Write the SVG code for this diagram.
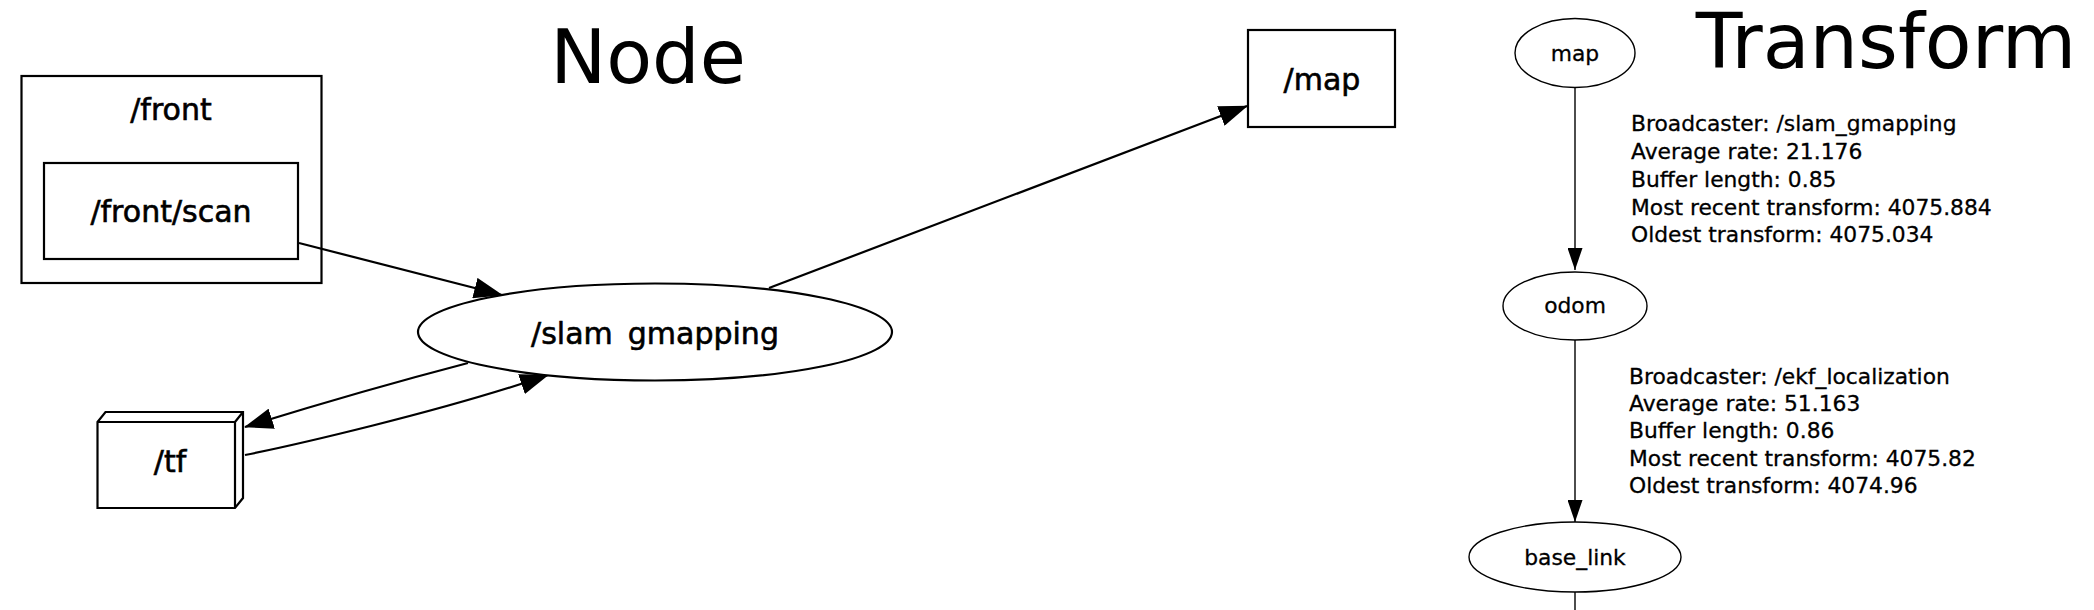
<svg xmlns="http://www.w3.org/2000/svg" width="2094" height="610" viewBox="0 0 2094 610">
<style>
  .bg { fill: #ffffff; }
  .title { font-family: "DejaVu Sans", sans-serif; font-size: 75px; fill: #000; text-anchor: middle; }
  .lbl { font-family: "DejaVu Sans", sans-serif; font-size: 30px; fill: #000; stroke: #000; stroke-width: 0.6; text-anchor: middle; }
  .tlbl { font-family: "DejaVu Sans", sans-serif; font-size: 21.8px; fill: #000; stroke: #000; stroke-width: 0.3; text-anchor: middle; }
  .elbl { font-family: "DejaVu Sans", sans-serif; font-size: 21.8px; fill: #000; stroke: #000; stroke-width: 0.3; }
  .thick { fill: #fff; stroke: #000; stroke-width: 2.2; }
  .cluster { fill: none; stroke: #000; stroke-width: 2.2; }
  .thin { fill: #fff; stroke: #000; stroke-width: 1.4; }
  .e { fill: none; stroke: #000; stroke-width: 2.2; }
  .et { fill: none; stroke: #000; stroke-width: 1.4; }
</style>
<defs>
  <marker id="ah" markerUnits="userSpaceOnUse" viewBox="0 0 29 21" refX="28" refY="10.5" markerWidth="29" markerHeight="21" orient="auto">
    <path d="M0,0 L29,10.5 L0,21 z" fill="#000"/>
  </marker>
  <marker id="ahs" markerUnits="userSpaceOnUse" viewBox="0 0 22 15" refX="22" refY="7.5" markerWidth="22" markerHeight="15" orient="auto">
    <path d="M0,0 L22,7.5 L0,15 z" fill="#000"/>
  </marker>
</defs>
<rect class="bg" x="0" y="0" width="2094" height="610"/>

<text class="title" x="648" y="83">Node</text>
<text class="title" x="1886" y="68" style="font-size:76.5px">Transform</text>

<g id="front">
  <rect class="cluster" x="21.5" y="76" width="300" height="207"/>
  <text class="lbl" x="171" y="120">/front</text>
</g>

<g id="connectors">
  <path class="e" d="M299,243 L502,295" marker-end="url(#ah)"/>
  <path class="e" d="M769,288 L1247,106" marker-end="url(#ah)"/>
  <path class="e" d="M468,363 Q357,392 245,427" marker-end="url(#ah)"/>
  <path class="e" d="M245,455 C290,446 440,412 548,375" marker-end="url(#ah)"/>
  <path class="et" d="M1575,87 L1575,270" marker-end="url(#ahs)"/>
  <path class="et" d="M1575,340 L1575,522" marker-end="url(#ahs)"/>
  <path class="et" d="M1575,592 L1575,615"/>
</g>

<g id="front_scan">
  <rect class="thick" x="44" y="163" width="254" height="96"/>
  <text class="lbl" x="171" y="222">/front/scan</text>
</g>
<g id="slam_gmapping">
  <ellipse class="thick" cx="655" cy="332" rx="237" ry="48.5"/>
  <text class="lbl" x="655" y="344" style="word-spacing:5.5px">/slam gmapping</text>
</g>
<g id="tf">
  <path class="thick" d="M97.5,422 L105.5,412 L243,412 L243,498 L235,508 L97.5,508 Z"/>
  <path class="thick" d="M97.5,422 L235,422 L235,508 M235,422 L243,412" fill="none"/>
  <text class="lbl" x="170" y="472">/tf</text>
</g>
<g id="map_topic">
  <rect class="thick" x="1248" y="30" width="147" height="97"/>
  <text class="lbl" x="1322" y="90">/map</text>
</g>

<g id="tf_map">
  <ellipse class="thin" cx="1575" cy="53" rx="60" ry="34.5"/>
  <text class="tlbl" x="1575" y="61">map</text>
</g>
<g id="tf_odom">
  <ellipse class="thin" cx="1575" cy="306" rx="72" ry="34"/>
  <text class="tlbl" x="1575" y="313">odom</text>
</g>
<g id="tf_base_link">
  <ellipse class="thin" cx="1575" cy="557" rx="106" ry="35"/>
  <text class="tlbl" x="1575" y="565">base_link</text>
</g>

<g id="label_map_odom">
  <text class="elbl" x="1631" y="131">Broadcaster: /slam_gmapping</text>
  <text class="elbl" x="1631" y="159">Average rate: 21.176</text>
  <text class="elbl" x="1631" y="187">Buffer length: 0.85</text>
  <text class="elbl" x="1631" y="215">Most recent transform: 4075.884</text>
  <text class="elbl" x="1631" y="242">Oldest transform: 4075.034</text>
</g>
<g id="label_odom_base">
  <text class="elbl" x="1629" y="384">Broadcaster: /ekf_localization</text>
  <text class="elbl" x="1629" y="411">Average rate: 51.163</text>
  <text class="elbl" x="1629" y="438">Buffer length: 0.86</text>
  <text class="elbl" x="1629" y="466">Most recent transform: 4075.82</text>
  <text class="elbl" x="1629" y="493">Oldest transform: 4074.96</text>
</g>
</svg>
